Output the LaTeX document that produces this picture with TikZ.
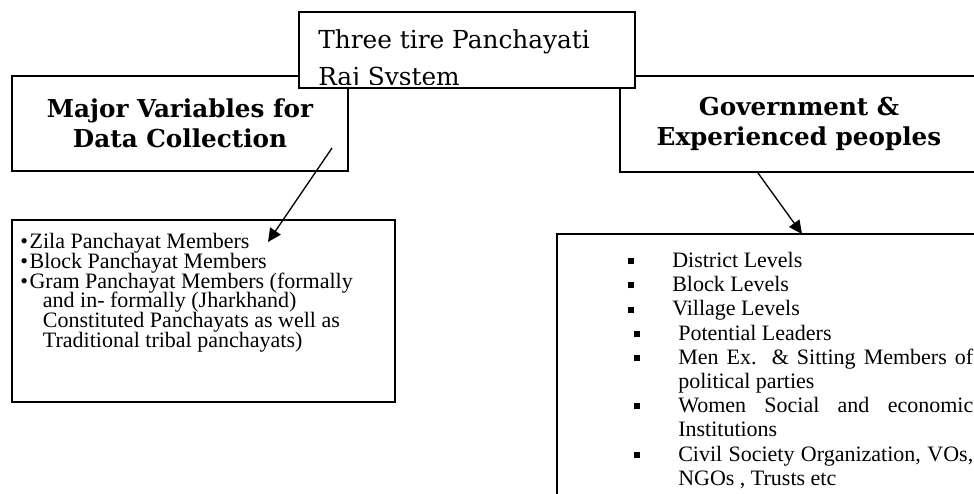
\documentclass[tikz,border=0pt]{standalone}
\usepackage{fontspec}
\setmainfont{Liberation Serif}
\newfontfamily\boxfont{DejaVu Serif}
\usetikzlibrary{arrows.meta,positioning}
\hyphenpenalty=10000
\exhyphenpenalty=10000
\newcommand{\listfont}[1]{\fontsize{16.5}{#1}\selectfont\lineskiplimit-20pt\relax}
\newcommand{\dotbul}{\makebox[7pt][l]{•}}
\newcommand{\sqbul}{\rule[2.4pt]{4.2pt}{4.6pt}}
\newcommand{\sqitem}[1]{\par\noindent\hangindent\dimexpr#1+33pt\relax\hangafter1\relax
    \hspace*{#1}\makebox[33pt][l]{\sqbul}}
\tikzset{
    frame/.style={draw,line width=1.3pt,inner sep=0pt},
    headbox/.style={frame,fill=white,minimum width=252pt,minimum height=71.25pt,align=center,
        font=\boxfont\bfseries\fontsize{18.5}{22.5}\selectfont},
    tierbox/.style={frame,fill=white,minimum width=252pt,minimum height=57pt},
    tiertext/.style={inner sep=0pt,anchor=north west,align=left,
        font=\boxfont\fontsize{18.6}{27.75}\selectfont},
    listbox/.style={frame},
    listtext/.style={inner sep=0pt,anchor=north west,font={\listfont{14.85}}},
    link/.style={line width=1pt,-{Triangle[length=10pt,width=9.5pt]}},
}

\begin{document}
\begin{tikzpicture}[x=0.75pt,y=-0.75pt]
    \useasboundingbox (0,0) rectangle (974,493);

    % the two headings
    \node[headbox] (vars) at (180,123.5) {Major Variables for\\Data Collection};
    \node[headbox,minimum width=268.5pt,minimum height=72pt] (govt) at (799,124)
        {Government \&\\Experienced peoples};

    % title, laid over the headings and cut at its lower edge
    \node[tierbox] (tier) at (467,50) {};
    \begin{scope}
        \clip (tier.north west) rectangle ([yshift=3pt]tier.south east);
        \node[tiertext] (tiertitle) at (318,29) {Three tire Panchayati\\Raj System};
    \end{scope}

    % lists
    \node[listbox,minimum width=287.25pt,minimum height=136.5pt] (zila) at (203.5,311) {};
    \node[listtext,align=left] (zilalist) at (20,233) {%
        \dotbul Zila Panchayat Members\\
        \dotbul Block Panchayat Members\\
        \dotbul Gram Panchayat Members (formally\\
        \hspace*{17pt}and in- formally (Jharkhand)\\
        \hspace*{17pt}Constituted Panchayats as well as\\
        \hspace*{17pt}Traditional tribal panchayats)};

    \node[listbox,minimum width=324.75pt,minimum height=207pt] (levels) at (773.5,372) {};
    \node[listtext,text width=258.75pt,align=justify,font={\listfont{18.15}}]
        (levelslist) at (628,243) {%
        \sqitem{0pt}District Levels
        \sqitem{0pt}Block Levels
        \sqitem{0pt}Village Levels
        \sqitem{4.5pt}Potential Leaders
        \sqitem{4.5pt}Men Ex. \& Sitting Members of political parties
        \sqitem{4.5pt}Women Social and economic Institutions
        \sqitem{4.5pt}Civil Society Organization, VOs,\linebreak NGOs , Trusts etc\par};

    % arrows
    \coordinate (varsout) at (332,148);
    \coordinate (zilain) at (268,242);
    \coordinate (govtout) at (758,173);
    \coordinate (levelsin) at (802,234);
    \draw[link] (varsout) -- (zilain);
    \draw[link] (govtout) -- (levelsin);
\end{tikzpicture}
\end{document}
